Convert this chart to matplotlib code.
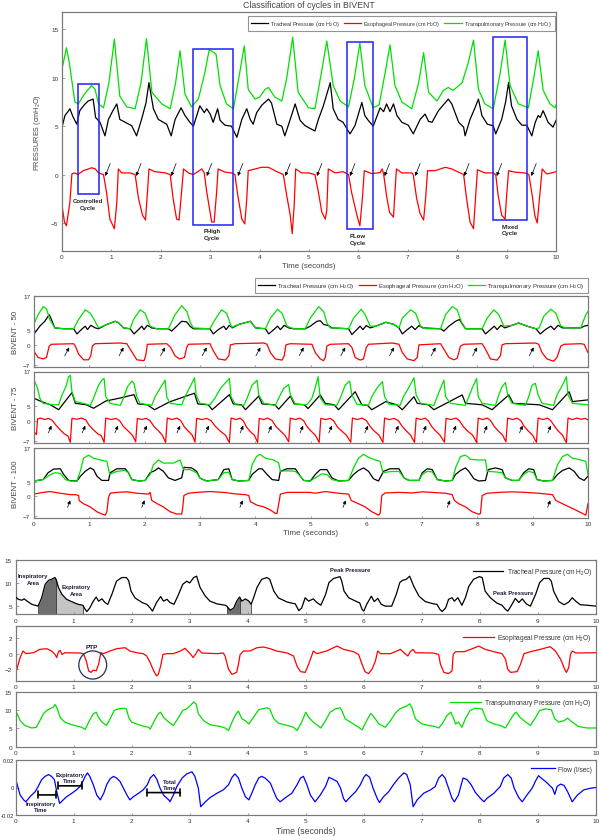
import numpy as np
import matplotlib
matplotlib.use("Agg")
import matplotlib.pyplot as plt
from matplotlib.patches import Rectangle, Ellipse

plt.rcParams['font.family'] = ['Liberation Sans', 'DejaVu Sans']
plt.rcParams['mathtext.fontset'] = 'custom'
plt.rcParams['mathtext.rm'] = 'Liberation Sans'
plt.rcParams['mathtext.it'] = 'Liberation Sans'

# ---------------- DATA ----------------
TIME_TICKS = list(range(0, 11))
LEG_TRACH = "Tracheal Pressure (cm H$_2$O)"
LEG_ESO = "Esophageal Pressure (cm H$_2$O)"
LEG_TRANS = "Transpulmonary Pressure (cm H$_2$O)"
LEG_FLOW = "Flow (l/sec)"

# Panel 1 : Classification of cycles in BIVENT
P1_GREEN = [(0,10.9),(0.09,13.1),(0.15,11.5),(0.26,7.5),(0.33,7.3),(0.45,8.3),(0.60,9.2),(0.67,8.8),(0.74,7.3),(0.84,6.9),(0.95,9.5),(1.06,14.0),(1.17,8.1),(1.31,7.0),(1.48,6.8),(1.60,9.5),(1.71,14.05),(1.82,8.5),(2.02,7.3),(2.19,6.8),(2.30,9.5),(2.39,12.8),(2.49,8.3),(2.62,7.0),(2.76,7.8),(2.89,10.5),(2.98,12.9),(3.08,12.6),(3.12,12.4),(3.20,9.2),(3.33,7.3),(3.47,6.8),(3.58,10.0),(3.69,13.3),(3.77,8.8),(3.91,7.8),(4.0,8.0),(4.11,8.8),(4.18,9.0),(4.31,8.0),(4.45,7.6),(4.55,10.0),(4.67,14.2),(4.78,8.5),(4.99,6.9),(5.12,6.8),(5.25,10.5),(5.36,13.8),(5.49,9.2),(5.63,7.6),(5.80,7.0),(5.92,10.0),(6.03,13.6),(6.13,9.2),(6.30,6.9),(6.42,7.2),(6.54,10.5),(6.64,13.4),(6.74,9.2),(6.88,7.5),(7.08,6.8),(7.22,9.5),(7.32,12.6),(7.42,8.5),(7.59,7.6),(7.72,8.7),(7.82,9.0),(7.92,8.7),(8.10,9.5),(8.22,11.5),(8.33,13.9),(8.43,8.8),(8.56,7.3),(8.73,6.8),(8.87,10.5),(8.97,13.9),(9.07,9.2),(9.24,7.3),(9.44,6.9),(9.55,10.0),(9.64,12.8),(9.74,8.7),(9.88,7.3),(9.98,6.9),(10.0,7.2)]
P1_BLACK = [(0,4.9),(0.06,6.1),(0.12,6.5),(0.16,6.8),(0.22,6.0),(0.30,5.2),(0.36,6.6),(0.45,7.2),(0.53,7.6),(0.63,7.8),(0.68,5.9),(0.77,5.4),(0.87,4.0),(0.94,5.7),(1.03,6.6),(1.11,7.3),(1.17,5.7),(1.28,5.4),(1.41,5.05),(1.51,4.0),(1.61,5.7),(1.70,7.4),(1.76,9.5),(1.85,6.8),(1.95,5.7),(2.12,5.2),(2.21,4.0),(2.29,5.7),(2.41,6.9),(2.49,6.1),(2.59,5.4),(2.66,5.0),(2.79,7.1),(2.88,6.4),(2.93,6.8),(3.00,6.25),(3.06,5.4),(3.15,6.8),(3.20,5.6),(3.30,5.1),(3.43,5.0),(3.54,3.85),(3.64,5.7),(3.74,6.8),(3.81,5.7),(3.87,5.2),(3.94,6.4),(4.05,7.2),(4.18,7.8),(4.24,7.4),(4.35,5.2),(4.45,5.0),(4.51,4.0),(4.62,5.7),(4.72,7.3),(4.82,5.6),(4.92,5.05),(5.12,4.5),(5.19,5.7),(5.29,7.1),(5.43,9.5),(5.49,6.8),(5.59,5.7),(5.69,5.4),(5.83,4.2),(5.93,5.05),(6.07,7.45),(6.13,6.1),(6.20,5.6),(6.30,5.0),(6.44,6.9),(6.51,6.5),(6.57,7.3),(6.64,6.5),(6.71,7.3),(6.78,6.1),(6.88,5.4),(7.01,5.1),(7.11,4.2),(7.25,5.7),(7.35,6.25),(7.42,5.5),(7.49,5.4),(7.62,6.6),(7.82,7.8),(7.89,7.3),(8.03,5.4),(8.13,4.9),(8.16,4.0),(8.26,5.7),(8.36,6.9),(8.43,7.8),(8.50,6.1),(8.61,5.2),(8.73,5.05),(8.78,4.2),(8.90,5.7),(8.98,7.5),(9.04,9.5),(9.10,7.1),(9.21,5.7),(9.31,5.1),(9.41,5.1),(9.51,4.0),(9.58,5.4),(9.64,6.1),(9.68,5.9),(9.74,6.6),(9.84,5.4),(9.94,4.9),(10.0,5.6)]
P1_RED = [(0,-3.2),(0.05,-4.9),(0.09,-5.3),(0.16,-2.85),(0.20,0.07),(0.26,0.17),(0.32,0.0),(0.43,0.4),(0.60,0.7),(0.67,0.6),(0.74,0.17),(0.84,0.0),(0.90,-1.8),(0.97,-4.6),(1.06,-5.6),(1.11,-2.85),(1.14,0.58),(1.21,0.17),(1.38,0.17),(1.48,0.0),(1.55,-2.5),(1.63,-4.2),(1.69,-4.7),(1.73,-1.8),(1.76,0.58),(1.88,0.3),(2.09,0.17),(2.19,0.0),(2.25,-2.5),(2.32,-4.6),(2.37,-4.7),(2.42,-1.8),(2.46,0.58),(2.56,0.17),(2.66,0.0),(2.83,0.58),(2.88,0.17),(2.93,-1.8),(3.03,-4.9),(3.08,-4.9),(3.13,-1.8),(3.16,0.58),(3.30,0.25),(3.43,0.17),(3.50,0.0),(3.56,-2.2),(3.64,-4.6),(3.70,-5.1),(3.74,-2.5),(3.77,0.4),(3.91,0.58),(4.04,0.75),(4.18,0.75),(4.31,0.4),(4.48,0.0),(4.55,-2.2),(4.62,-4.2),(4.66,-6.1),(4.70,-3.2),(4.73,0.58),(4.85,0.17),(4.99,0.17),(5.12,0.0),(5.19,-1.8),(5.26,-3.9),(5.33,-4.6),(5.36,-3.7),(5.39,0.58),(5.53,0.17),(5.69,0.3),(5.80,0.0),(5.86,-1.8),(5.97,-4.2),(6.03,-5.3),(6.08,-2.5),(6.12,0.4),(6.27,0.1),(6.44,0.2),(6.48,0.58),(6.51,0.07),(6.57,-2.2),(6.63,-3.9),(6.71,-4.4),(6.74,-1.8),(6.77,0.58),(6.88,0.17),(7.08,0.17),(7.11,0.0),(7.18,-2.5),(7.25,-4.05),(7.32,-4.7),(7.36,-2.5),(7.40,0.4),(7.55,0.4),(7.76,0.75),(7.89,0.58),(8.06,0.17),(8.13,0.0),(8.19,-2.5),(8.26,-4.9),(8.33,-5.6),(8.37,-2.5),(8.41,0.5),(8.56,0.17),(8.73,0.17),(8.78,0.0),(8.83,-2.2),(8.90,-4.2),(8.97,-4.6),(9.00,-2.2),(9.04,0.4),(9.17,0.25),(9.37,0.17),(9.45,0.0),(9.52,-2.2),(9.57,-4.2),(9.62,-5.0),(9.67,-2.2),(9.72,0.58),(9.81,0.07),(9.91,0.17),(10.0,0.3)]
P1_ARROW_T = [0.875, 1.50, 2.21, 2.93, 3.56, 4.52, 5.16, 5.83, 6.53, 7.15, 8.14, 8.80, 9.50]
P1_BOX_T0 = [0.33, 2.66, 5.76, 8.73]
P1_BOX_T1 = [0.74, 3.47, 6.30, 9.42]
P1_BOX_V0 = [-2.0, -5.2, -5.67, -4.74]
P1_BOX_V1 = [9.35, 13.0, 13.75, 14.26]
P1_BOX_LABELS = ["Controlled\nCycle", "PHigh\nCycle", "PLow\nCycle", "Mixed\nCycle"]
P1_LABEL_T = [0.52, 3.04, 5.99, 9.07]
P1_LABEL_V = [-3.05, -6.15, -6.65, -5.7]

# Panel 2 : BIVENT - 50
P2_GREEN = [(0,7.0),(0.08,10.4),(0.17,13.2),(0.23,12.5),(0.29,8.7),(0.38,5.8),(0.54,5.5),(0.72,5.5),(0.81,8.7),(0.93,12.1),(1.02,10.9),(1.09,8.7),(1.17,5.8),(1.32,7.0),(1.47,8.1),(1.53,7.6),(1.62,5.8),(1.74,5.5),(1.80,8.7),(1.92,12.1),(2.01,10.9),(2.10,6.4),(2.22,5.5),(2.43,5.5),(2.55,10.4),(2.67,13.5),(2.76,11.6),(2.83,7.5),(2.88,5.8),(3.18,5.5),(3.27,8.7),(3.39,12.1),(3.48,10.9),(3.57,6.0),(3.70,7.0),(3.91,8.1),(4.00,5.8),(4.18,5.5),(4.27,9.2),(4.40,12.3),(4.48,10.9),(4.57,6.4),(4.69,5.5),(4.90,5.5),(4.99,9.2),(5.14,13.2),(5.23,11.5),(5.29,7.5),(5.35,5.8),(5.68,5.5),(5.77,9.2),(5.91,12.3),(5.98,10.4),(6.07,6.4),(6.17,6.4),(6.35,7.75),(6.50,7.0),(6.59,5.8),(6.65,9.2),(6.80,12.1),(6.89,10.9),(6.98,6.4),(7.07,5.5),(7.34,5.5),(7.43,10.4),(7.55,13.2),(7.64,12.1),(7.73,7.0),(7.79,5.5),(8.09,5.5),(8.18,9.2),(8.30,12.1),(8.39,10.4),(8.48,6.4),(8.63,6.7),(8.75,7.5),(8.90,6.4),(9.06,5.5),(9.12,5.8),(9.20,9.8),(9.33,12.3),(9.42,10.9),(9.51,6.4),(9.60,5.8),(9.87,5.8),(9.96,10.4),(10.0,11.5)]
P2_BLACK = [(0,3.5),(0.11,6.4),(0.20,8.1),(0.28,10.4),(0.32,8.7),(0.38,5.8),(0.54,5.5),(0.72,5.5),(0.78,3.7),(0.87,5.4),(0.93,6.4),(0.97,5.2),(1.03,6.7),(1.11,5.8),(1.17,5.5),(1.32,7.0),(1.47,8.1),(1.53,7.6),(1.62,5.8),(1.74,5.5),(1.81,3.7),(1.89,5.2),(1.95,6.4),(1.99,5.2),(2.05,6.7),(2.13,5.8),(2.22,5.5),(2.43,5.5),(2.49,4.7),(2.58,6.4),(2.67,8.1),(2.76,7.9),(2.82,6.4),(2.88,5.5),(3.18,5.5),(3.24,3.7),(3.33,5.2),(3.43,6.4),(3.47,5.2),(3.53,6.7),(3.58,5.8),(3.70,7.0),(3.91,8.1),(4.00,5.8),(4.18,5.5),(4.24,3.7),(4.33,5.2),(4.40,6.4),(4.45,5.2),(4.52,6.7),(4.60,5.8),(4.69,5.5),(4.90,5.5),(4.99,6.4),(5.11,8.1),(5.17,8.3),(5.23,7.0),(5.32,6.6),(5.38,5.8),(5.68,5.5),(5.74,3.5),(5.83,5.2),(5.89,6.4),(5.94,5.2),(6.00,6.6),(6.07,5.8),(6.17,6.4),(6.35,7.75),(6.50,7.0),(6.59,5.8),(6.65,3.7),(6.74,5.2),(6.82,6.4),(6.88,5.2),(6.95,6.6),(7.02,5.8),(7.34,5.5),(7.40,4.7),(7.49,6.4),(7.61,8.1),(7.68,8.7),(7.73,7.3),(7.79,5.5),(8.09,5.5),(8.15,3.7),(8.24,5.2),(8.31,6.4),(8.36,5.2),(8.43,6.7),(8.50,5.8),(8.63,6.7),(8.75,7.5),(8.90,6.4),(9.06,5.5),(9.14,3.7),(9.23,5.2),(9.33,6.4),(9.39,5.2),(9.46,6.7),(9.54,5.8),(9.87,5.8),(9.93,6.4),(10.0,6.7)]
P2_RED = [(0,-2.2),(0.08,-4.5),(0.17,-5.0),(0.23,-4.5),(0.28,-0.5),(0.32,0.1),(0.72,0.3),(0.75,-0.5),(0.81,-3.3),(0.90,-5.3),(0.99,-5.3),(1.03,-3.9),(1.06,-0.5),(1.11,0.3),(1.56,0.55),(1.68,0.3),(1.78,-2.8),(1.86,-5.3),(1.99,-5.6),(2.02,-3.9),(2.05,0.1),(2.40,0.3),(2.47,-1.0),(2.55,-3.9),(2.63,-5.0),(2.72,-4.5),(2.76,-1.0),(2.79,0.1),(3.18,0.3),(3.24,-2.2),(3.33,-5.0),(3.46,-5.4),(3.52,-3.9),(3.55,-0.1),(3.64,0.3),(4.15,0.55),(4.21,0.1),(4.27,-2.8),(4.36,-5.0),(4.48,-5.4),(4.52,-3.9),(4.55,-0.1),(4.63,0.3),(5.02,0.1),(5.08,-2.8),(5.17,-5.0),(5.23,-5.6),(5.26,-4.5),(5.29,-0.5),(5.35,0.1),(5.68,0.3),(5.74,-1.0),(5.80,-4.5),(5.89,-5.4),(5.95,-5.0),(6.00,-1.0),(6.04,0.1),(6.47,0.55),(6.59,0.1),(6.65,-2.8),(6.74,-5.0),(6.86,-5.6),(6.92,-4.5),(6.95,-0.1),(7.34,0.3),(7.40,-1.6),(7.49,-4.5),(7.58,-5.3),(7.64,-4.8),(7.70,-0.5),(7.76,0.1),(8.09,0.3),(8.15,-1.6),(8.24,-5.0),(8.36,-5.4),(8.42,-3.9),(8.45,-0.1),(8.51,0.3),(9.05,0.55),(9.11,0.1),(9.17,-2.8),(9.26,-5.0),(9.38,-5.8),(9.44,-4.5),(9.51,-0.5),(9.57,0.1),(9.87,0.3),(9.93,0.1),(10.0,-2.8)]
P2_ARROW_T = [0.64, 1.62, 2.37, 3.12, 4.09, 4.87, 5.62, 6.50, 7.25, 8.00, 9.02]

# Panel 3 : BIVENT - 75
P3_GREEN = [(0,12.9),(0.02,13.5),(0.07,11.2),(0.11,7.8),(0.17,6.0),(0.36,5.5),(0.45,5.5),(0.51,8.9),(0.58,11.7),(0.63,15.2),(0.66,15.7),(0.69,10.0),(0.75,6.6),(0.90,6.0),(1.02,5.3),(1.08,7.8),(1.17,12.3),(1.23,14.0),(1.27,14.6),(1.30,8.3),(1.38,6.0),(1.56,5.3),(1.62,7.8),(1.69,11.7),(1.77,13.7),(1.81,12.9),(1.86,8.3),(1.92,6.0),(2.13,5.3),(2.19,8.3),(2.28,11.2),(2.37,14.0),(2.40,8.3),(2.46,6.0),(2.67,5.5),(2.73,8.3),(2.82,11.7),(2.90,14.8),(2.93,8.9),(3.00,6.0),(3.18,5.5),(3.27,7.8),(3.37,11.2),(3.53,14.6),(3.56,8.3),(3.64,5.5),(3.79,5.3),(3.85,7.8),(3.94,12.3),(4.03,14.0),(4.06,8.9),(4.15,6.0),(4.36,5.3),(4.42,7.8),(4.51,11.2),(4.60,12.5),(4.63,8.9),(4.72,5.7),(4.93,5.5),(5.02,7.8),(5.08,11.5),(5.13,15.2),(5.17,7.8),(5.26,5.5),(5.47,5.3),(5.53,7.8),(5.62,12.3),(5.70,13.7),(5.74,8.9),(5.83,5.7),(6.04,5.3),(6.10,8.3),(6.19,11.2),(6.29,13.5),(6.33,8.3),(6.41,5.7),(6.61,5.3),(6.67,8.3),(6.76,11.2),(6.86,14.8),(6.90,8.9),(6.98,6.0),(7.22,5.3),(7.28,8.3),(7.34,11.2),(7.40,14.0),(7.43,8.3),(7.52,6.0),(7.79,5.3),(7.85,8.3),(7.91,11.2),(7.99,14.6),(8.02,8.3),(8.09,6.0),(8.33,5.3),(8.39,8.9),(8.45,11.7),(8.51,13.2),(8.55,8.9),(8.63,6.0),(8.87,5.3),(8.93,8.3),(8.99,12.3),(9.05,12.9),(9.10,8.9),(9.17,6.0),(9.38,5.3),(9.44,8.9),(9.54,12.3),(9.61,15.2),(9.64,8.9),(9.72,6.0),(10.0,5.5)]
P3_BLACK = [(0,7.8),(0.14,6.6),(0.30,5.5),(0.45,3.8),(0.69,9.7),(0.75,6.0),(0.95,5.5),(1.08,4.3),(1.30,6.8),(1.55,7.8),(1.81,9.0),(1.88,5.8),(2.05,5.5),(2.18,3.8),(2.45,6.5),(2.90,9.5),(2.96,5.8),(3.15,5.5),(3.22,3.8),(3.53,9.0),(3.60,5.8),(3.75,5.5),(3.82,3.8),(4.06,8.5),(4.12,5.8),(4.35,5.5),(4.42,4.0),(4.63,8.5),(4.70,5.8),(4.88,5.5),(4.95,4.2),(5.17,8.9),(5.26,6.0),(5.42,5.5),(5.50,3.8),(5.80,10.0),(5.92,5.5),(6.02,5.3),(6.10,3.8),(6.35,6.6),(6.55,5.5),(6.65,3.8),(6.86,8.3),(6.92,6.0),(7.12,5.5),(7.22,3.8),(7.73,8.9),(7.79,6.0),(8.09,5.5),(8.27,3.8),(8.57,8.9),(8.65,6.0),(9.12,5.5),(9.36,3.8),(9.66,10.0),(9.72,6.6),(10.0,7.2)]
P3_RED = [(0,-3.7),(0.05,-4.8),(0.07,0.6),(0.12,0.9),(0.20,0.4),(0.26,0.8),(0.33,0.2),(0.40,-1.5),(0.47,-3.0),(0.55,-4.5),(0.62,-5.3),(0.66,-7.5),
          (0.69,0.8),(0.78,0.5),(0.86,0.9),(0.94,0.3),(1.00,-1.6),(1.08,-3.2),(1.16,-4.6),(1.22,-5.2),(1.27,-7.5),
          (1.30,0.9),(1.40,0.4),(1.48,0.8),(1.55,0.0),(1.62,-2.0),(1.70,-3.5),(1.78,-5.0),(1.84,-7.3),
          (1.87,0.8),(1.95,0.4),(2.03,0.8),(2.10,0.0),(2.17,-2.0),(2.25,-3.5),(2.32,-5.0),(2.38,-7.5),
          (2.41,0.9),(2.50,0.4),(2.58,0.9),(2.65,0.1),(2.72,-2.2),(2.80,-3.8),(2.86,-5.0),(2.91,-7.4),
          (2.94,0.8),(3.04,0.4),(3.12,0.8),(3.20,0.0),(3.28,-2.0),(3.36,-3.5),(3.46,-5.0),(3.53,-7.6),
          (3.56,0.9),(3.66,0.4),(3.72,0.9),(3.78,0.0),(3.84,-2.2),(3.90,-3.6),(3.98,-5.0),(4.04,-7.5),
          (4.07,0.8),(4.15,0.4),(4.22,0.9),(4.30,0.1),(4.37,-2.0),(4.45,-3.5),(4.53,-5.0),(4.60,-7.3),
          (4.63,0.9),(4.72,0.4),(4.80,0.9),(4.87,0.0),(4.93,-2.0),(5.00,-3.5),(5.08,-5.0),(5.15,-7.5),
          (5.18,0.8),(5.27,0.4),(5.35,0.8),(5.41,0.0),(5.48,-2.2),(5.56,-3.6),(5.64,-5.0),(5.72,-7.4),
          (5.75,0.9),(5.84,0.4),(5.92,0.9),(6.00,0.1),(6.07,-2.0),(6.14,-3.5),(6.23,-5.0),(6.30,-7.5),
          (6.33,0.9),(6.42,0.4),(6.50,0.8),(6.58,0.0),(6.65,-2.0),(6.72,-3.5),(6.80,-5.0),(6.87,-7.5),
          (6.90,0.9),(6.99,0.4),(7.06,0.9),(7.12,0.0),(7.18,-2.0),(7.25,-3.5),(7.33,-5.0),(7.41,-7.4),
          (7.44,0.8),(7.53,0.4),(7.62,0.9),(7.68,0.0),(7.75,-2.0),(7.83,-3.6),(7.92,-5.0),(7.99,-7.5),
          (8.02,0.9),(8.10,0.4),(8.18,0.9),(8.24,0.1),(8.31,-2.0),(8.38,-3.5),(8.46,-5.0),(8.52,-7.3),
          (8.55,0.9),(8.64,0.4),(8.72,0.9),(8.79,0.0),(8.85,-2.0),(8.92,-3.5),(9.00,-5.0),(9.07,-7.5),
          (9.10,0.9),(9.19,0.4),(9.27,0.9),(9.33,0.0),(9.40,-2.0),(9.46,-3.5),(9.54,-5.0),(9.61,-7.6),
          (9.64,0.9),(9.72,0.4),(9.80,0.9),(9.88,0.5),(9.95,0.8),(10.0,0.3)]
P3_ARROW_T = [0.32, 0.93, 1.52, 2.04, 2.64, 3.16, 3.78, 4.29, 4.86, 5.38, 6.03, 6.58, 7.08, 7.62, 8.18, 8.82, 9.33]

# Panel 4 : BIVENT - 100
P4_GREEN = [(0,5.3),(0.17,5.8),(0.29,7.4),(0.38,8.2),(0.48,8.0),(0.57,5.8),(0.66,5.3),(0.78,5.3),(0.84,8.7),(0.90,13.3),(0.99,14.4),(1.08,13.3),(1.20,12.7),(1.32,12.2),(1.37,7.6),(1.50,8.7),(1.65,9.0),(1.71,8.2),(1.77,5.8),(1.90,5.3),(2.01,5.5),(2.10,7.6),(2.16,11.0),(2.25,12.7),(2.34,11.6),(2.52,11.6),(2.64,12.7),(2.69,9.9),(2.71,9.3),(2.82,9.3),(2.94,8.2),(3.00,6.3),(3.12,5.3),(3.33,5.8),(3.43,8.2),(3.52,8.4),(3.58,5.8),(3.70,5.3),(3.88,5.5),(3.94,11.0),(4.02,13.9),(4.08,14.7),(4.18,13.3),(4.33,12.7),(4.42,11.6),(4.45,8.7),(4.57,8.9),(4.72,8.7),(4.81,7.0),(4.87,5.5),(4.99,5.3),(5.08,6.4),(5.20,7.8),(5.29,7.6),(5.38,5.8),(5.50,5.3),(5.68,5.5),(5.77,9.9),(5.86,13.3),(5.95,14.7),(6.04,13.6),(6.16,12.7),(6.25,12.2),(6.30,8.2),(6.43,8.6),(6.59,8.7),(6.68,6.4),(6.77,5.5),(6.95,5.5),(7.01,7.6),(7.10,8.7),(7.19,8.5),(7.28,5.8),(7.43,5.3),(7.55,5.5),(7.61,9.9),(7.70,13.9),(7.79,14.4),(7.88,12.9),(8.03,12.7),(8.15,12.7),(8.18,8.7),(8.33,8.5),(8.45,8.2),(8.51,6.4),(8.63,5.5),(8.75,5.5),(8.84,7.6),(8.93,8.7),(9.02,8.2),(9.08,5.8),(9.20,5.3),(9.36,5.5),(9.45,11.0),(9.54,13.9),(9.63,14.7),(9.72,13.3),(9.87,12.7),(9.96,12.2),(10.0,7.6)]
P4_BLACK = [(0,5.3),(0.17,5.8),(0.26,8.2),(0.36,9.5),(0.48,9.6),(0.54,7.6),(0.63,5.5),(0.78,5.3),(0.84,6.9),(0.93,8.7),(1.02,9.9),(1.08,9.3),(1.14,7.0),(1.23,5.5),(1.35,5.5),(1.38,8.2),(1.50,9.6),(1.65,9.6),(1.71,8.2),(1.77,5.8),(1.90,5.3),(2.01,5.5),(2.10,8.2),(2.19,9.0),(2.25,9.9),(2.34,8.7),(2.43,6.4),(2.55,5.5),(2.67,6.4),(2.71,10.1),(2.85,9.9),(2.94,8.7),(3.00,6.3),(3.12,5.3),(3.33,5.8),(3.43,9.3),(3.52,9.6),(3.58,5.8),(3.70,5.3),(3.88,5.5),(3.94,7.6),(4.06,9.6),(4.12,9.6),(4.21,7.6),(4.30,5.8),(4.42,5.5),(4.45,8.7),(4.57,9.6),(4.72,9.6),(4.81,7.0),(4.87,5.5),(4.99,5.3),(5.08,7.6),(5.17,9.3),(5.29,9.3),(5.38,6.4),(5.50,5.3),(5.68,5.5),(5.77,7.6),(5.86,9.0),(5.95,9.9),(6.04,8.7),(6.13,6.1),(6.22,5.3),(6.31,8.7),(6.43,9.6),(6.59,9.6),(6.68,6.4),(6.77,5.5),(6.95,5.5),(7.01,8.2),(7.10,9.6),(7.19,9.3),(7.28,5.8),(7.43,5.3),(7.55,5.5),(7.61,7.6),(7.70,9.0),(7.79,9.9),(7.85,8.7),(7.94,6.1),(8.03,5.3),(8.15,5.5),(8.20,9.3),(8.33,9.9),(8.45,9.3),(8.51,6.4),(8.63,5.5),(8.75,5.5),(8.84,8.2),(8.93,9.6),(9.02,9.3),(9.08,5.8),(9.20,5.3),(9.36,5.5),(9.45,7.6),(9.54,9.0),(9.66,9.9),(9.75,8.7),(9.84,6.4),(9.93,5.5),(10.0,7.0)]
P4_RED = [(0,0.7),(0.17,1.3),(0.29,1.6),(0.48,1.0),(0.66,0.5),(0.76,0.5),(0.81,0.2),(0.82,-1.55),(0.90,-2.7),(1.02,-3.8),(1.14,-5.5),(1.23,-6.3),(1.29,-6.7),(1.32,-5.5),(1.35,-0.4),(1.38,1.0),(1.50,1.3),(1.68,1.5),(1.86,1.0),(2.07,0.7),(2.10,1.3),(2.13,-1.55),(2.25,-2.9),(2.34,-3.8),(2.46,-5.5),(2.58,-6.3),(2.67,-6.3),(2.69,-3.8),(2.71,0.2),(2.79,1.0),(2.94,1.3),(3.18,1.6),(3.43,1.3),(3.67,0.7),(3.82,0.5),(3.88,0.2),(3.91,-2.0),(4.03,-3.2),(4.15,-3.8),(4.27,-4.9),(4.36,-6.1),(4.39,-6.1),(4.42,-2.7),(4.45,0.7),(4.57,1.3),(4.75,1.3),(4.99,1.3),(5.08,1.0),(5.26,1.6),(5.50,1.0),(5.68,0.7),(5.73,-1.55),(5.86,-2.7),(5.98,-3.8),(6.10,-5.5),(6.22,-6.7),(6.25,-6.1),(6.28,0.2),(6.34,1.1),(6.59,1.3),(6.83,1.1),(7.01,1.5),(7.19,1.3),(7.43,1.0),(7.55,0.5),(7.59,-1.55),(7.67,-2.7),(7.79,-3.8),(7.91,-5.5),(8.03,-6.4),(8.06,-6.1),(8.09,0.2),(8.18,1.0),(8.39,1.3),(8.63,1.5),(8.87,1.3),(9.11,1.0),(9.36,0.5),(9.42,-1.55),(9.54,-2.7),(9.66,-3.8),(9.78,-4.9),(9.90,-6.1),(9.96,-6.7),(10.0,-2.7)]
P4_ARROW_T = [0.66, 2.00, 3.77, 5.63, 7.51, 9.32]
BIVENT_LABELS = ["BIVENT - 50", "BIVENT - 75", "BIVENT - 100"]
BIVENT_YTICKS = [-7, 0, 5, 17]

# Panel 5 : Tracheal pressure
P5_TRACH = [(0,6.9),(0.05,6.4),(0.11,6.2),(0.15,6.5),(0.19,6.1),(0.28,5.3),(0.39,4.9),(0.45,6.7),(0.51,9.7),(0.57,10.6),(0.62,10.8),(0.68,11.2),(0.70,10.8),(0.74,9.0),(0.80,7.5),(0.88,6.4),(1.00,5.7),(1.08,5.3),(1.16,5.1),(1.20,4.2),(1.23,3.7),(1.28,4.5),(1.34,6.0),(1.39,6.9),(1.43,6.0),(1.49,6.5),(1.54,5.7),(1.59,5.3),(1.66,7.5),(1.74,10.4),(1.83,11.2),(1.91,11.2),(1.95,10.5),(1.99,8.2),(2.06,6.7),(2.18,5.7),(2.26,5.3),(2.32,4.5),(2.36,3.8),(2.43,5.7),(2.50,7.0),(2.55,6.0),(2.61,6.4),(2.66,5.7),(2.73,5.3),(2.81,7.5),(2.88,9.7),(2.95,10.4),(3.00,10.0),(3.07,11.2),(3.12,11.5),(3.18,9.0),(3.27,7.1),(3.35,6.0),(3.47,5.4),(3.61,5.1),(3.64,4.9),(3.70,4.0),(3.76,4.5),(3.81,6.0),(3.86,6.9),(3.90,6.0),(3.96,6.5),(4.02,6.0),(4.06,5.3),(4.10,6.7),(4.16,9.0),(4.24,10.8),(4.33,11.2),(4.38,10.8),(4.45,8.2),(4.53,6.7),(4.68,5.8),(4.82,5.4),(4.88,3.9),(4.93,4.5),(4.99,6.75),(5.05,6.0),(5.13,6.5),(5.19,5.7),(5.26,5.1),(5.34,7.4),(5.40,10.1),(5.48,11.0),(5.59,11.4),(5.62,10.4),(5.66,8.2),(5.74,6.75),(5.86,6.0),(5.93,5.6),(5.97,4.2),(6.00,3.8),(6.05,5.3),(6.13,7.1),(6.18,5.9),(6.24,6.6),(6.30,5.3),(6.37,4.9),(6.48,4.9),(6.56,7.5),(6.62,10.1),(6.67,10.6),(6.73,10.8),(6.79,11.5),(6.86,9.3),(6.95,7.1),(7.06,5.9),(7.20,5.4),(7.26,5.3),(7.31,4.2),(7.35,3.7),(7.41,4.5),(7.46,6.4),(7.52,6.75),(7.56,6.0),(7.62,6.75),(7.69,5.1),(7.75,6.75),(7.81,9.3),(7.89,10.8),(7.99,11.4),(8.04,11.2),(8.09,8.2),(8.18,6.75),(8.29,5.6),(8.38,5.1),(8.44,4.2),(8.48,3.8),(8.54,5.0),(8.61,6.6),(8.67,5.7),(8.73,6.5),(8.80,5.4),(8.87,4.9),(8.96,7.5),(9.03,10.1),(9.10,11.0),(9.19,11.0),(9.23,10.4),(9.27,8.2),(9.36,5.9),(9.45,5.2),(9.53,5.8),(9.59,6.75),(9.65,6.0),(9.73,5.2),(9.85,5.1),(10.0,4.9)]
P5_AREA_T0 = [0.39, 0.70, 3.64, 3.86]
P5_AREA_T1 = [0.70, 1.16, 3.86, 4.06]
P5_AREA_KIND = ["insp", "exp", "insp", "exp"]
P5_TEXTS = ["Inspiratory\nArea", "Expiratory\nArea", "Peak Pressure", "Peak Pressure"]
P5_TEXT_T = [0.30, 1.05, 5.77, 8.57]
P5_TEXT_V = [10.9, 8.45, 13.0, 7.85]

# Panel 6 : Esophageal pressure
P6_ESO = [(0,-2.65),(0.03,-1.8),(0.08,-0.5),(0.13,0.34),(0.18,0.0),(0.31,0.12),(0.42,0.55),(0.54,0.63),(0.62,0.34),(0.68,-0.1),(0.71,-0.5),(0.74,0.25),(0.77,0.42),(0.80,-0.1),(0.85,0.12),(1.11,0.08),(1.17,0.0),(1.22,-0.94),(1.26,-2.2),(1.30,-2.4),(1.34,-2.1),(1.39,-2.2),(1.43,-1.4),(1.47,0.12),(1.51,0.0),(1.63,0.34),(1.74,0.63),(1.89,0.76),(1.97,0.34),(2.09,0.12),(2.20,0.0),(2.26,-0.3),(2.32,-1.15),(2.38,-2.2),(2.43,-2.85),(2.46,-2.65),(2.50,-1.6),(2.54,-0.1),(2.61,0.0),(2.72,0.0),(2.84,0.34),(2.92,0.68),(3.01,0.0),(3.06,-0.5),(3.10,-0.1),(3.15,0.55),(3.21,0.08),(3.47,0.0),(3.58,0.08),(3.61,-0.3),(3.67,-2.0),(3.73,-2.65),(3.81,-2.4),(3.84,-1.36),(3.87,-0.1),(3.93,0.34),(4.04,0.34),(4.16,0.76),(4.27,0.85),(4.39,0.63),(4.50,0.34),(4.68,0.08),(4.79,-0.3),(4.85,-1.6),(4.91,-2.3),(4.99,-2.4),(5.05,-1.36),(5.11,-0.1),(5.13,0.34),(5.19,0.0),(5.36,0.34),(5.54,0.97),(5.65,0.55),(5.82,0.25),(5.91,-0.1),(5.97,-1.36),(6.02,-2.3),(6.08,-2.55),(6.14,-2.0),(6.20,-0.94),(6.24,0.34),(6.29,0.0),(6.46,0.0),(6.57,0.34),(6.63,0.55),(6.69,0.12),(6.76,-0.3),(6.80,0.25),(6.85,0.55),(6.89,0.12),(7.20,0.08),(7.29,-0.1),(7.32,-1.36),(7.38,-2.4),(7.46,-2.55),(7.52,-2.2),(7.54,-0.1),(7.58,0.25),(7.73,0.25),(7.87,0.63),(7.98,0.97),(8.09,0.55),(8.24,0.25),(8.38,0.0),(8.44,-0.7),(8.48,-2.0),(8.53,-2.4),(8.64,-2.3),(8.70,-1.36),(8.76,0.0),(8.87,0.25),(9.04,0.55),(9.21,0.89),(9.30,0.34),(9.39,-0.7),(9.46,-2.0),(9.49,-2.4),(9.53,-1.8),(9.56,-0.1),(9.59,0.34),(9.65,0.08),(10.0,0.12)]
PTP_T, PTP_V = 1.33, -1.45
PTP_TEXT_T, PTP_TEXT_V = 1.31, 0.9

# Panel 7 : Transpulmonary pressure
P7_TRANS = [(0,9.4),(0.03,9.0),(0.08,7.1),(0.16,5.8),(0.28,5.1),(0.36,5.3),(0.42,7.1),(0.48,9.0),(0.54,9.9),(0.59,10.3),(0.65,10.8),(0.68,11.5),(0.71,10.8),(0.77,8.0),(0.85,6.7),(0.97,6.0),(1.09,5.5),(1.14,5.3),(1.20,4.7),(1.26,6.7),(1.34,9.0),(1.39,9.4),(1.43,8.0),(1.49,6.7),(1.57,5.8),(1.63,7.6),(1.70,9.9),(1.77,10.3),(1.86,10.5),(1.91,10.3),(1.95,8.0),(2.00,6.7),(2.12,6.0),(2.23,5.5),(2.29,5.3),(2.32,4.8),(2.38,6.7),(2.46,9.0),(2.50,9.4),(2.55,8.0),(2.64,6.7),(2.72,5.8),(2.81,8.0),(2.88,9.9),(2.95,10.3),(3.01,11.2),(3.07,12.2),(3.11,11.7),(3.15,9.0),(3.24,7.1),(3.35,6.0),(3.53,5.5),(3.61,5.1),(3.67,4.4),(3.73,6.7),(3.80,9.0),(3.84,9.7),(3.90,7.6),(3.96,7.1),(4.02,6.2),(4.10,8.0),(4.19,10.1),(4.33,10.6),(4.38,10.3),(4.45,7.6),(4.53,6.4),(4.68,5.8),(4.79,5.3),(4.85,4.4),(4.93,6.7),(5.00,9.4),(5.05,8.0),(5.13,6.7),(5.26,5.1),(5.34,7.1),(5.42,9.4),(5.51,10.3),(5.59,10.6),(5.62,9.9),(5.68,7.6),(5.77,6.7),(5.91,5.3),(5.97,4.6),(6.05,7.1),(6.12,9.1),(6.18,8.0),(6.26,6.2),(6.37,5.3),(6.46,7.1),(6.54,9.1),(6.62,10.3),(6.69,10.8),(6.73,11.0),(6.79,11.7),(6.83,10.6),(6.89,7.6),(7.00,6.2),(7.12,5.8),(7.23,5.5),(7.29,5.1),(7.35,6.2),(7.43,8.5),(7.50,9.4),(7.54,8.0),(7.58,6.2),(7.63,6.7),(7.69,5.3),(7.75,7.6),(7.83,9.9),(7.92,10.5),(8.04,10.3),(8.07,9.0),(8.12,7.1),(8.24,6.2),(8.35,5.8),(8.44,5.1),(8.50,6.7),(8.59,9.0),(8.63,9.4),(8.69,8.0),(8.79,6.7),(8.87,5.8),(8.96,8.0),(9.03,9.9),(9.13,10.3),(9.23,10.1),(9.29,7.6),(9.36,6.7),(9.45,7.1),(9.51,7.8),(9.59,6.7),(9.70,5.5),(9.85,5.1),(10.0,5.1)]

# Panel 8 : Flow (values in units of 0.01 l/sec)
P8_FLOW = [(0,0.7),(0.03,0.2),(0.08,-0.55),(0.14,-0.9),(0.18,-1.04),(0.25,-0.67),(0.34,-0.3),(0.39,0.07),(0.45,0.57),(0.51,0.81),(0.57,0.94),(0.62,0.81),(0.67,0.57),(0.71,-0.3),(0.76,-1.16),(0.80,-0.99),(0.88,-0.67),(0.97,-0.42),(1.05,-0.17),(1.11,0.07),(1.16,0.44),(1.20,0.81),(1.24,1.06),(1.28,0.81),(1.34,0.2),(1.40,-0.55),(1.46,-0.9),(1.52,-0.42),(1.57,0.2),(1.63,0.64),(1.69,0.81),(1.74,0.69),(1.80,0.44),(1.86,-0.05),(1.92,-0.55),(1.97,-0.9),(2.03,-0.67),(2.12,-0.42),(2.20,-0.17),(2.27,0.2),(2.32,0.69),(2.38,0.94),(2.43,0.64),(2.49,-0.05),(2.55,-0.55),(2.64,-0.9),(2.66,-1.04),(2.72,-0.55),(2.78,0.07),(2.87,0.69),(2.95,0.99),(3.04,1.14),(3.09,0.81),(3.15,-0.05),(3.19,-1.4),(3.27,-1.04),(3.35,-0.74),(3.47,-0.42),(3.58,-0.17),(3.67,0.2),(3.73,0.74),(3.78,0.99),(3.84,0.69),(3.90,-0.05),(3.96,-0.67),(4.02,-0.9),(4.07,-0.42),(4.13,0.2),(4.19,0.69),(4.24,0.81),(4.30,0.69),(4.39,0.32),(4.45,-0.3),(4.50,-0.79),(4.56,-1.04),(4.65,-0.74),(4.76,-0.42),(4.85,0.2),(4.91,0.69),(4.96,0.81),(5.02,0.2),(5.08,-0.55),(5.16,-1.04),(5.25,-0.55),(5.34,0.07),(5.40,0.74),(5.45,0.64),(5.54,0.44),(5.60,-0.05),(5.65,-0.79),(5.69,-1.04),(5.77,-0.67),(5.86,-0.3),(5.94,0.2),(6.00,0.74),(6.04,0.94),(6.10,0.74),(6.16,-0.05),(6.23,-0.79),(6.27,-1.09),(6.34,-0.67),(6.43,-0.3),(6.51,0.2),(6.60,0.69),(6.69,1.06),(6.74,0.94),(6.80,0.2),(6.85,-1.4),(6.92,-0.9),(7.03,-0.42),(7.15,-0.17),(7.23,0.07),(7.29,0.69),(7.35,0.94),(7.40,0.69),(7.46,-0.05),(7.52,-0.79),(7.56,-1.04),(7.63,-0.55),(7.71,0.69),(7.78,0.57),(7.85,0.2),(7.92,-0.35),(8.01,-0.79),(8.07,-1.04),(8.12,-0.79),(8.24,-0.42),(8.35,0.07),(8.41,0.69),(8.48,0.94),(8.54,0.69),(8.59,-0.05),(8.67,-0.74),(8.73,-1.04),(8.81,-0.55),(8.90,-0.05),(8.96,0.49),(9.01,0.86),(9.07,0.64),(9.13,0.44),(9.19,0.2),(9.25,-0.05),(9.29,-0.5),(9.33,0.07),(9.39,0.25),(9.45,0.15),(9.51,-0.3),(9.59,-1.04),(9.68,-0.55),(9.79,-0.17),(9.91,-0.05),(10.0,0.0)]
FLOW_SCALE = 0.01
P8_BAR_LABELS = ["Inspiratory\nTime", "Expiratory\nTime", "Total\nTime"]
P8_BAR_T0 = [0.39, 0.74, 2.26]
P8_BAR_T1 = [0.70, 1.14, 2.84]
P8_BAR_V = [-0.0054, 0.0012, -0.0037]
P8_BAR_TEXT_T = [0.43, 0.94, 2.65]
P8_BAR_TEXT_V = [-0.0137, 0.0073, 0.0023]

# ---------------- STYLE ----------------
GREEN = '#00e000'
RED = '#ff0000'
BLUE = '#0000ff'
BLACK = '#000000'
FRAME = '#7a7a7a'
TXT = '#333333'
LW = 0.9


def xy(pairs, scale=1.0):
    a = np.asarray(pairs, dtype=float)
    return a[:, 0], a[:, 1] * scale


def style_axes(ax, xlabels=True, fs=4.6):
    for s in ax.spines.values():
        s.set_color(FRAME)
        s.set_linewidth(0.9)
    ax.tick_params(axis='both', direction='in', length=1.8, width=0.5, color=FRAME,
                   labelsize=fs, labelcolor=TXT, pad=2.5)
    ax.set_xlim(0, 10)
    ax.set_xticks(TIME_TICKS)
    if not xlabels:
        ax.set_xticklabels([])


fig = plt.figure(figsize=(6.0, 8.37), dpi=100)
W, H = 600.0, 837.0


def add_ax(left, top, right, bottom):
    return fig.add_axes([left / W, 1 - bottom / H, (right - left) / W, (bottom - top) / H])


def box_legend(ax, **kw):
    leg = ax.legend(ncol=3, fontsize=3.9, frameon=True, fancybox=False, edgecolor=FRAME,
                    handlelength=3.2, columnspacing=0.7, handletextpad=0.4,
                    borderpad=0.55, borderaxespad=0, **kw)
    leg.get_frame().set_linewidth(0.8)
    for txt in leg.get_texts():
        txt.set_color(TXT)
    return leg


# ---------- Panel 1 ----------
ax1 = add_ax(62, 13, 556, 252)
style_axes(ax1)
ax1.set_ylim(-7.9, 16.8)
ax1.set_yticks([-5, 0, 5, 10, 15])
t, v = xy(P1_BLACK); ax1.plot(t, v, color=BLACK, lw=LW, label=LEG_TRACH)
t, v = xy(P1_RED); ax1.plot(t, v, color=RED, lw=LW, label=LEG_ESO)
t, v = xy(P1_GREEN); ax1.plot(t, v, color=GREEN, lw=LW, label=LEG_TRANS)
for t0, t1, v0, v1 in zip(P1_BOX_T0, P1_BOX_T1, P1_BOX_V0, P1_BOX_V1):
    ax1.add_patch(Rectangle((t0, v0), t1 - t0, v1 - v0, fill=False, edgecolor='#2020ff', lw=1.1, zorder=5))
for lab, lt, lv in zip(P1_BOX_LABELS, P1_LABEL_T, P1_LABEL_V):
    ax1.text(lt, lv, lab, ha='center', va='center', fontsize=4.3, fontweight='bold', color='#222222',
             linespacing=1.3)
for at in P1_ARROW_T:
    ax1.annotate('', xy=(at, -0.15), xytext=(at + 0.10, 1.15),
                 arrowprops=dict(arrowstyle='-|>', color='black', lw=0.5, mutation_scale=5,
                                 shrinkA=0, shrinkB=0), zorder=6)
box_legend(ax1, loc='upper right', bbox_to_anchor=(0.997, 0.982))
ax1.set_title("Classification of cycles in BIVENT", fontsize=6.3, color='#444444', pad=3.5)
ax1.set_ylabel("PRESSURES (cmH$_2$O)", fontsize=5.2, color='#444444', labelpad=6)
ax1.set_xlabel("Time (seconds)", fontsize=5.6, color='#444444', labelpad=2)

# ---------- Panels 2-4 ----------
bivent_boxes = [(33.7, 296.7, 588, 367.7), (33.7, 372.5, 588, 444), (33.7, 448.7, 588, 519)]
series = [(P2_BLACK, P2_RED, P2_GREEN, P2_ARROW_T, (-0.08, -1.0, -3.9)),
          (P3_BLACK, P3_RED, P3_GREEN, P3_ARROW_T, (-0.055, -1.7, -4.2)),
          (P4_BLACK, P4_RED, P4_GREEN, P4_ARROW_T, (-0.05, -1.5, -4.0))]
bivent_axes = []
for i, (box, (bk, rd, gr, arr, ao), lab) in enumerate(zip(bivent_boxes, series, BIVENT_LABELS)):
    ax = add_ax(*box)
    style_axes(ax, xlabels=(i == 2))
    ax.set_ylim(-7.7, 16.6)
    ax.set_yticks(BIVENT_YTICKS)
    t, v = xy(bk); ax.plot(t, v, color=BLACK, lw=LW, label=LEG_TRACH)
    t, v = xy(rd); ax.plot(t, v, color=RED, lw=LW, label=LEG_ESO)
    t, v = xy(gr); ax.plot(t, v, color=GREEN, lw=LW, label=LEG_TRANS)
    for at in arr:
        ax.annotate('', xy=(at, ao[1]), xytext=(at + ao[0], ao[2]),
                    arrowprops=dict(arrowstyle='-|>', color='black', lw=0.5, mutation_scale=5,
                                    shrinkA=0, shrinkB=0), zorder=6)
    ax.set_ylabel(lab, fontsize=5.6, color='#444444', labelpad=3)
    bivent_axes.append(ax)
leg2 = box_legend(bivent_axes[0], loc='lower right', bbox_to_anchor=(1.0, 1.04))
for txt in leg2.get_texts():
    txt.set_fontsize(4.3)
bivent_axes[2].set_xlabel("Time (seconds)", fontsize=5.8, color='#444444', labelpad=2)

# ---------- Panel 5 : tracheal ----------
ax5 = add_ax(15.5, 561.3, 596, 615.3)
style_axes(ax5)
ax5.set_ylim(3.1, 15)
ax5.set_yticks([5, 10, 15])
t5, v5 = xy(P5_TRACH)
for t0, t1, kind in zip(P5_AREA_T0, P5_AREA_T1, P5_AREA_KIND):
    inner = t5[(t5 > t0) & (t5 < t1)]
    xs = np.concatenate([[t0], inner, [t1]])
    ys = np.interp(xs, t5, v5)
    col = '#6e6e6e' if kind == 'insp' else '#c4c4c4'
    ax5.fill_between(xs, ys, 3.1, color=col, lw=0, zorder=1)
    ax5.vlines([t0, t1], 3.1, np.interp([t0, t1], t5, v5), color='#444444', lw=0.6, zorder=1.5)
ax5.plot(t5, v5, color=BLACK, lw=LW, label=LEG_TRACH, zorder=3)
for s, tt, vv in zip(P5_TEXTS, P5_TEXT_T, P5_TEXT_V):
    ax5.text(tt, vv, s, ha='center', va='center', fontsize=4.2, fontweight='bold', color='#1a1a3a',
             linespacing=1.35)
ax5.legend(loc='upper right', bbox_to_anchor=(1.0, 0.97), fontsize=4.8, frameon=False, handlelength=4.6,
           handletextpad=0.5, borderaxespad=0.2, labelcolor=TXT)

# ---------- Panel 6 : esophageal ----------
ax6 = add_ax(15.5, 627.3, 596, 682)
style_axes(ax6)
ax6.set_ylim(-3.5, 3.5)
ax6.set_yticks([-2, 0, 2])
t, v = xy(P6_ESO); ax6.plot(t, v, color=RED, lw=LW, label=LEG_ESO)
ax6.add_patch(Ellipse((PTP_T, PTP_V), width=0.48, height=3.6, fill=False, edgecolor='#1f2f5a', lw=0.9, zorder=5))
ax6.text(PTP_TEXT_T, PTP_TEXT_V, "PTP", ha='center', va='center', fontsize=4.6, fontweight='bold', color='#1a1a3a')
ax6.legend(loc='upper right', bbox_to_anchor=(1.0, 0.97), fontsize=4.8, frameon=False, handlelength=4.6,
           handletextpad=0.5, borderaxespad=0.2, labelcolor=TXT)

# ---------- Panel 7 : transpulmonary ----------
ax7 = add_ax(15.5, 692.7, 596, 747.7)
style_axes(ax7)
ax7.set_ylim(0, 15)
ax7.set_yticks([0, 5, 10, 15])
t, v = xy(P7_TRANS); ax7.plot(t, v, color=GREEN, lw=LW, label=LEG_TRANS)
ax7.legend(loc='upper right', bbox_to_anchor=(1.0, 0.97), fontsize=4.8, frameon=False, handlelength=4.6,
           handletextpad=0.5, borderaxespad=0.2, labelcolor=TXT)

# ---------- Panel 8 : flow ----------
ax8 = add_ax(15.5, 761, 596, 816)
style_axes(ax8)
ax8.set_ylim(-0.02, 0.02)
ax8.set_yticks([-0.02, 0, 0.02])
ax8.set_yticklabels(['-0.02', '0', '0.02'])
ax8.tick_params(axis='y', pad=1.0, labelsize=4.2)
t, v = xy(P8_FLOW, FLOW_SCALE); ax8.plot(t, v, color=BLUE, lw=LW, label=LEG_FLOW)
for lab, t0, t1, bv, tt, tv in zip(P8_BAR_LABELS, P8_BAR_T0, P8_BAR_T1, P8_BAR_V, P8_BAR_TEXT_T, P8_BAR_TEXT_V):
    ax8.annotate('', xy=(t0, bv), xytext=(t1, bv),
                 arrowprops=dict(arrowstyle='|-|,widthA=0.25,widthB=0.25', color='black', lw=1.2,
                                 shrinkA=0, shrinkB=0), zorder=6)
    ax8.text(tt, tv, lab, ha='center', va='center', fontsize=4.2, fontweight='bold', color='#1a1a3a',
             linespacing=1.35, zorder=7)
ax8.legend(loc='upper right', bbox_to_anchor=(1.0, 0.97), fontsize=4.8, frameon=False, handlelength=3.5,
           handletextpad=0.5, borderaxespad=0.2, labelcolor=TXT)
ax8.set_xlabel("Time (seconds)", fontsize=6.2, color='#444444', labelpad=1.5)

fig.savefig('out.png', dpi=100)
